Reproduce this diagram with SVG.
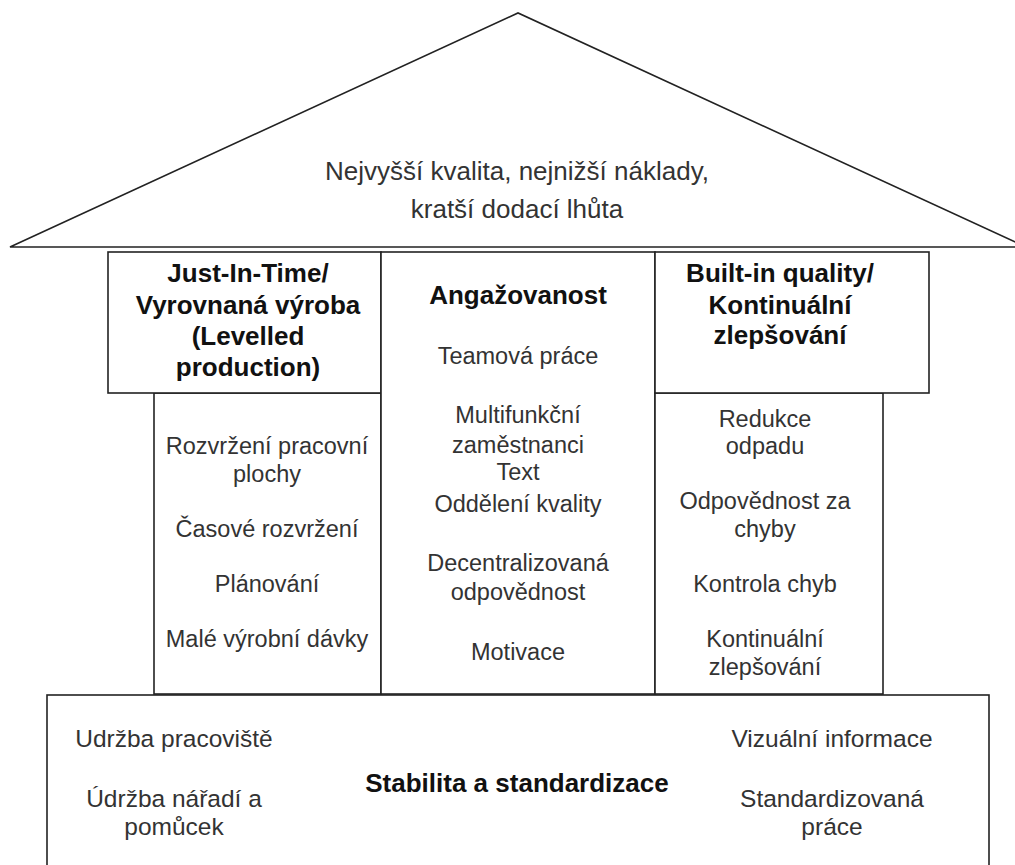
<svg xmlns="http://www.w3.org/2000/svg" width="1015" height="865" viewBox="0 0 1015 865">
  <style>
    .shape { fill: #ffffff; stroke: #222222; stroke-width: 1.6; }
    .t { font-family: "Liberation Sans", Arial, sans-serif; fill: #333333; text-anchor: middle; }
    .reg { font-size: 23.5px; }
    .roof { font-size: 26px; }
    .base { font-size: 24.5px; }
    .h { font-family: "Liberation Sans", Arial, sans-serif; fill: #111111; font-weight: bold; font-size: 26px; text-anchor: middle; }
  </style>
  <rect x="0" y="0" width="1015" height="865" fill="#ffffff"/>

  <!-- Roof -->
  <g id="roof">
    <polygon class="shape" points="10,247 518,13 1026,247"/>
    <text class="t roof" x="517" y="180">Nejvyšší kvalita, nejnižší náklady,</text>
    <text class="t roof" x="517" y="218">kratší dodací lhůta</text>
  </g>

  <!-- Left pillar: Just-In-Time -->
  <g id="pillar-jit">
    <rect class="shape" x="154" y="393" width="227" height="301"/>
    <rect class="shape" x="108" y="252" width="273" height="141"/>
    <text class="h" x="248" y="282">Just-In-Time/</text>
    <text class="h" x="248" y="314">Vyrovnaná výroba</text>
    <text class="h" x="248" y="345">(Levelled</text>
    <text class="h" x="248" y="376">production)</text>
    <text class="t reg" x="267" y="454">Rozvržení pracovní</text>
    <text class="t reg" x="267" y="482">plochy</text>
    <text class="t reg" x="267" y="537">Časové rozvržení</text>
    <text class="t reg" x="267" y="592">Plánování</text>
    <text class="t reg" x="267" y="647">Malé výrobní dávky</text>
  </g>

  <!-- Middle pillar: Angažovanost -->
  <g id="pillar-engagement">
    <rect class="shape" x="381" y="252" width="274" height="442"/>
    <text class="h" x="518" y="304">Angažovanost</text>
    <text class="t reg" x="518" y="364">Teamová práce</text>
    <text class="t reg" x="518" y="423">Multifunkční</text>
    <text class="t reg" x="518" y="453">zaměstnanci</text>
    <text class="t reg" x="518" y="480">Text</text>
    <text class="t reg" x="518" y="512">Oddělení kvality</text>
    <text class="t reg" x="518" y="571">Decentralizovaná</text>
    <text class="t reg" x="518" y="600">odpovědnost</text>
    <text class="t reg" x="518" y="660">Motivace</text>
  </g>

  <!-- Right pillar: Built-in quality -->
  <g id="pillar-quality">
    <rect class="shape" x="655" y="393" width="228" height="301"/>
    <rect class="shape" x="655" y="252" width="274" height="141"/>
    <text class="h" x="780" y="282">Built-in quality/</text>
    <text class="h" x="780" y="314">Kontinuální</text>
    <text class="h" x="780" y="344">zlepšování</text>
    <text class="t reg" x="765" y="427">Redukce</text>
    <text class="t reg" x="765" y="454">odpadu</text>
    <text class="t reg" x="765" y="509">Odpovědnost za</text>
    <text class="t reg" x="765" y="537">chyby</text>
    <text class="t reg" x="765" y="592">Kontrola chyb</text>
    <text class="t reg" x="765" y="647">Kontinuální</text>
    <text class="t reg" x="765" y="675">zlepšování</text>
  </g>

  <!-- Foundation -->
  <g id="foundation">
    <rect class="shape" x="47" y="695" width="942" height="190"/>
    <text class="h" x="517" y="792">Stabilita a standardizace</text>
    <text class="t base" x="174" y="747">Udržba pracoviště</text>
    <text class="t base" x="174" y="807">Údržba nářadí a</text>
    <text class="t base" x="174" y="835">pomůcek</text>
    <text class="t base" x="832" y="747">Vizuální informace</text>
    <text class="t base" x="832" y="807">Standardizovaná</text>
    <text class="t base" x="832" y="835">práce</text>
  </g>
</svg>
